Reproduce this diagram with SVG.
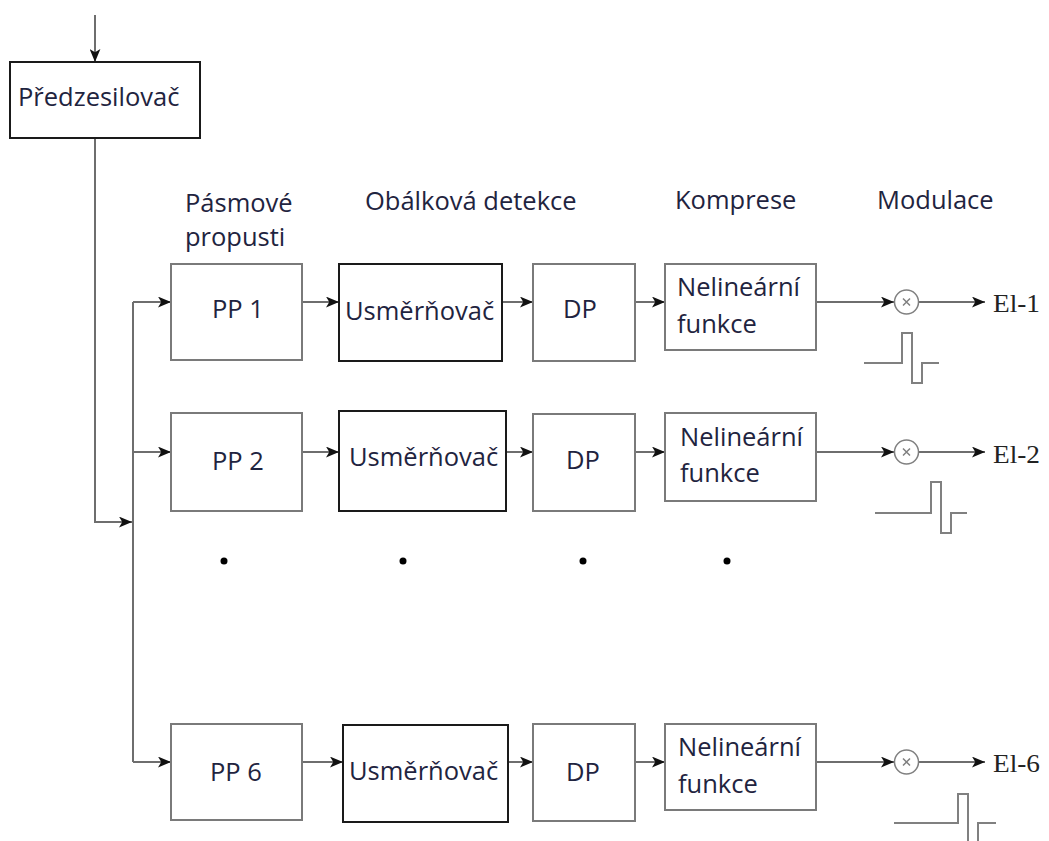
<svg xmlns="http://www.w3.org/2000/svg" width="1049" height="841" viewBox="0 0 1049 841">
  <defs>
    <marker id="arr" viewBox="0 0 12 10" refX="12" refY="5" markerWidth="13" markerHeight="11" markerUnits="userSpaceOnUse" orient="auto">
      <path d="M0,0 L12,5 L0,10 L3,5 Z" fill="#111"/>
    </marker>
  </defs>
  <style>
    .box { fill: #fff; stroke: #7a7a7a; stroke-width: 2; }
    .rect { fill: #fff; stroke: #1a1a1a; stroke-width: 2; }
    .lbl { font-family: "Open Sans", "Noto Sans", sans-serif; font-size: 25.5px; fill: #1f2440; }
    .out { font-family: "Liberation Serif", serif; font-size: 26px; fill: #222; }
    .ln { fill: none; stroke: #6e6e6e; stroke-width: 2; }
    .ar { fill: none; stroke: #6e6e6e; stroke-width: 2; marker-end: url(#arr); }
    .pulse { fill: none; stroke: #808080; stroke-width: 2; }
    .mix { fill: #fff; stroke: #808080; stroke-width: 1.5; }
    .dot { fill: #000; }
  </style>

  <!-- column headings -->
  <g id="headings">
    <text class="lbl" x="185" y="212">Pásmové</text>
    <text class="lbl" x="185" y="246">propusti</text>
    <text class="lbl" x="365" y="210">Obálková detekce</text>
    <text class="lbl" x="675" y="209">Komprese</text>
    <text class="lbl" x="877" y="209">Modulace</text>
  </g>

  <!-- connectors -->
  <g id="connectors">
    <line class="ar" x1="95" y1="15" x2="95" y2="62"/>
    <polyline class="ar" points="95,138 95,522 132,522"/>
    <line class="ln" x1="133" y1="302" x2="133" y2="762"/>
    <!-- band 1 -->
    <line class="ar" x1="133" y1="302" x2="171" y2="302"/>
    <line class="ar" x1="302" y1="302" x2="339" y2="302"/>
    <line class="ar" x1="502" y1="302" x2="533" y2="302"/>
    <line class="ar" x1="635" y1="302" x2="665" y2="302"/>
    <line class="ar" x1="816" y1="302" x2="894" y2="302"/>
    <line class="ar" x1="919" y1="302" x2="985" y2="302"/>
    <!-- band 2 -->
    <line class="ar" x1="133" y1="452" x2="171" y2="452"/>
    <line class="ar" x1="302" y1="452" x2="339" y2="452"/>
    <line class="ar" x1="506" y1="452" x2="533" y2="452"/>
    <line class="ar" x1="635" y1="452" x2="665" y2="452"/>
    <line class="ar" x1="816" y1="452" x2="894" y2="452"/>
    <line class="ar" x1="919" y1="452" x2="985" y2="452"/>
    <!-- band 6 -->
    <line class="ar" x1="133" y1="762" x2="171" y2="762"/>
    <line class="ar" x1="302" y1="762" x2="343" y2="762"/>
    <line class="ar" x1="508" y1="762" x2="533" y2="762"/>
    <line class="ar" x1="635" y1="762" x2="665" y2="762"/>
    <line class="ar" x1="816" y1="762" x2="894" y2="762"/>
    <line class="ar" x1="919" y1="762" x2="985" y2="762"/>
  </g>

  <!-- preamplifier -->
  <g id="predzesilovac">
    <rect class="rect" x="10" y="62" width="190" height="76"/>
    <text class="lbl" x="18" y="106">Předzesilovač</text>
  </g>

  <!-- band 1 -->
  <g id="pp1">
    <rect class="box" x="171" y="264" width="131" height="96"/>
    <text class="lbl" x="212" y="318">PP 1</text>
  </g>
  <g id="usm1">
    <rect class="rect" x="339" y="264" width="163" height="97"/>
    <text class="lbl" x="345" y="320">Usměrňovač</text>
  </g>
  <g id="dp1">
    <rect class="box" x="533" y="264" width="102" height="97"/>
    <text class="lbl" x="563" y="318">DP</text>
  </g>
  <g id="nel1">
    <rect class="box" x="665" y="264" width="151" height="86"/>
    <text class="lbl" x="677" y="296">Nelineární</text>
    <text class="lbl" x="677" y="333">funkce</text>
  </g>
  <g id="mod1">
    <circle class="mix" cx="906.5" cy="302" r="12"/>
    <path class="mix" d="M903,298.5 L910,305.5 M910,298.5 L903,305.5"/>
    <polyline class="pulse" points="864,363 902,363 902,333 912,333 912,383 922,383 922,363 939,363"/>
    <text class="out" x="993" y="312" textLength="47" lengthAdjust="spacingAndGlyphs">El-1</text>
  </g>

  <!-- band 2 -->
  <g id="pp2">
    <rect class="box" x="171" y="413" width="131" height="98"/>
    <text class="lbl" x="212" y="470">PP 2</text>
  </g>
  <g id="usm2">
    <rect class="rect" x="339" y="411" width="167" height="100"/>
    <text class="lbl" x="349" y="466">Usměrňovač</text>
  </g>
  <g id="dp2">
    <rect class="box" x="533" y="414" width="102" height="97"/>
    <text class="lbl" x="566" y="469">DP</text>
  </g>
  <g id="nel2">
    <rect class="box" x="665" y="413" width="151" height="88"/>
    <text class="lbl" x="680" y="446">Nelineární</text>
    <text class="lbl" x="680" y="482">funkce</text>
  </g>
  <g id="mod2">
    <circle class="mix" cx="906.5" cy="452" r="12"/>
    <path class="mix" d="M903,448.5 L910,455.5 M910,448.5 L903,455.5"/>
    <polyline class="pulse" points="875,513 931,513 931,482 941,482 941,533 951,533 951,513 967,513"/>
    <text class="out" x="993" y="463" textLength="47" lengthAdjust="spacingAndGlyphs">El-2</text>
  </g>

  <!-- omitted bands -->
  <g id="dots">
    <circle class="dot" cx="224" cy="561" r="3.5"/>
    <circle class="dot" cx="403" cy="561" r="3.5"/>
    <circle class="dot" cx="583" cy="561" r="3.5"/>
    <circle class="dot" cx="727" cy="561" r="3.5"/>
  </g>

  <!-- band 6 -->
  <g id="pp6">
    <rect class="box" x="171" y="724" width="131" height="96"/>
    <text class="lbl" x="210" y="781">PP 6</text>
  </g>
  <g id="usm6">
    <rect class="rect" x="343" y="725" width="165" height="97"/>
    <text class="lbl" x="349" y="780">Usměrňovač</text>
  </g>
  <g id="dp6">
    <rect class="box" x="533" y="724" width="102" height="97"/>
    <text class="lbl" x="566" y="781">DP</text>
  </g>
  <g id="nel6">
    <rect class="box" x="665" y="724" width="151" height="86"/>
    <text class="lbl" x="678" y="756">Nelineární</text>
    <text class="lbl" x="678" y="793">funkce</text>
  </g>
  <g id="mod6">
    <circle class="mix" cx="906.5" cy="762" r="12"/>
    <path class="mix" d="M903,758.5 L910,765.5 M910,758.5 L903,765.5"/>
    <polyline class="pulse" points="894,823 958,823 958,794 968,794 968,850 978,850 978,823 996,823"/>
    <text class="out" x="993" y="772" textLength="47" lengthAdjust="spacingAndGlyphs">El-6</text>
  </g>
</svg>
